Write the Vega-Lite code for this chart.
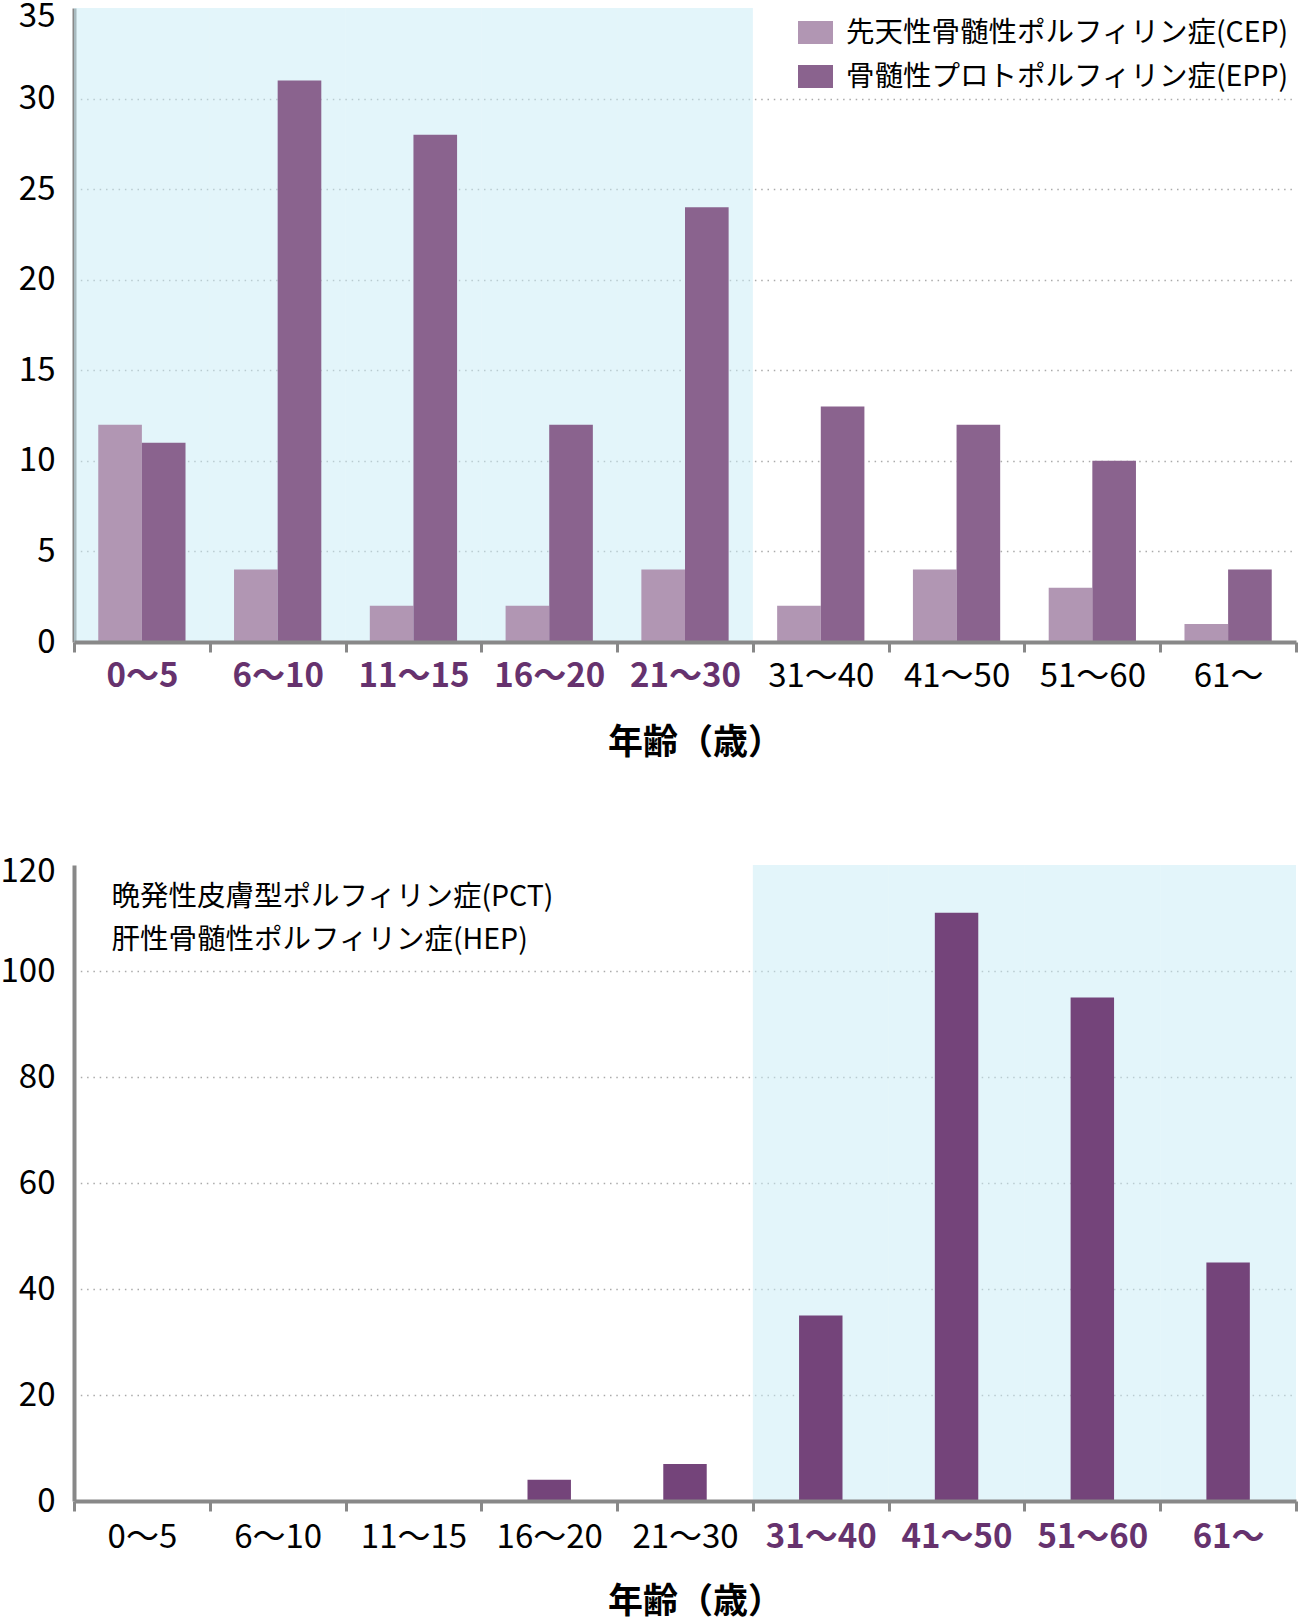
{
  "$schema": "https://vega.github.io/schema/vega-lite/v6.json",
  "padding": {"left": 0, "top": 0, "right": 2, "bottom": 0},
  "background": "white",
  "config": {
    "font": "Noto Sans CJK JP",
    "view": {"stroke": null},
    "axis": {
      "domainColor": "#888888",
      "domainWidth": 4,
      "tickColor": "#888888",
      "tickWidth": 3,
      "labelColor": "black",
      "titleColor": "black",
      "labelFont": "Noto Sans CJK JP",
      "titleFont": "Noto Sans CJK JP"
    },
    "legend": {"labelFont": "Noto Sans CJK JP", "labelFontSize": 28.5, "labelColor": "black", "labelLimit": 0}
  },
  "datasets": {
    "top": [
      {"年齢": "0〜5", "病型": "先天性骨髄性ポルフィリン症(CEP)", "人数": 12},
      {"年齢": "0〜5", "病型": "骨髄性プロトポルフィリン症(EPP)", "人数": 11},
      {"年齢": "6〜10", "病型": "先天性骨髄性ポルフィリン症(CEP)", "人数": 4},
      {"年齢": "6〜10", "病型": "骨髄性プロトポルフィリン症(EPP)", "人数": 31},
      {"年齢": "11〜15", "病型": "先天性骨髄性ポルフィリン症(CEP)", "人数": 2},
      {"年齢": "11〜15", "病型": "骨髄性プロトポルフィリン症(EPP)", "人数": 28},
      {"年齢": "16〜20", "病型": "先天性骨髄性ポルフィリン症(CEP)", "人数": 2},
      {"年齢": "16〜20", "病型": "骨髄性プロトポルフィリン症(EPP)", "人数": 12},
      {"年齢": "21〜30", "病型": "先天性骨髄性ポルフィリン症(CEP)", "人数": 4},
      {"年齢": "21〜30", "病型": "骨髄性プロトポルフィリン症(EPP)", "人数": 24},
      {"年齢": "31〜40", "病型": "先天性骨髄性ポルフィリン症(CEP)", "人数": 2},
      {"年齢": "31〜40", "病型": "骨髄性プロトポルフィリン症(EPP)", "人数": 13},
      {"年齢": "41〜50", "病型": "先天性骨髄性ポルフィリン症(CEP)", "人数": 4},
      {"年齢": "41〜50", "病型": "骨髄性プロトポルフィリン症(EPP)", "人数": 12},
      {"年齢": "51〜60", "病型": "先天性骨髄性ポルフィリン症(CEP)", "人数": 3},
      {"年齢": "51〜60", "病型": "骨髄性プロトポルフィリン症(EPP)", "人数": 10},
      {"年齢": "61〜", "病型": "先天性骨髄性ポルフィリン症(CEP)", "人数": 1},
      {"年齢": "61〜", "病型": "骨髄性プロトポルフィリン症(EPP)", "人数": 4}
    ],
    "topHighlight": [
      {"年齢": "0〜5"}, {"年齢": "6〜10"}, {"年齢": "11〜15"}, {"年齢": "16〜20"}, {"年齢": "21〜30"}
    ],
    "bottom": [
      {"年齢": "0〜5", "人数": 0},
      {"年齢": "6〜10", "人数": 0},
      {"年齢": "11〜15", "人数": 0},
      {"年齢": "16〜20", "人数": 4},
      {"年齢": "21〜30", "人数": 7},
      {"年齢": "31〜40", "人数": 35},
      {"年齢": "41〜50", "人数": 111},
      {"年齢": "51〜60", "人数": 95},
      {"年齢": "61〜", "人数": 45}
    ],
    "bottomHighlight": [
      {"年齢": "31〜40"}, {"年齢": "41〜50"}, {"年齢": "51〜60"}, {"年齢": "61〜"}
    ]
  },
  "vconcat": [
    {
      "width": 1222,
      "height": 634,
      "layer": [
        {
          "data": {"name": "topHighlight"},
          "mark": {"type": "rect", "color": "#c7ebf5", "opacity": 0.5},
          "encoding": {
            "x": {"field": "年齢", "type": "nominal"}
          }
        },
        {
          "data": {"name": "top"},
          "mark": {"type": "bar"},
          "encoding": {
            "x": {"field": "年齢", "type": "nominal"},
            "xOffset": {
              "field": "病型",
              "type": "nominal",
              "scale": {"paddingInner": 0, "paddingOuter": 0.556}
            },
            "y": {"field": "人数", "type": "quantitative"},
            "color": {
              "field": "病型",
              "type": "nominal",
              "scale": {
                "domain": ["先天性骨髄性ポルフィリン症(CEP)", "骨髄性プロトポルフィリン症(EPP)"],
                "range": ["#b196b3", "#8a638e"]
              },
              "legend": {
                "title": null,
                "orient": "top-right",
                "offset": 5,
                "padding": 2,
                "symbolType": "M-1,-0.66H1V0.66H-1Z",
                "symbolSize": 1225,
                "symbolStrokeWidth": 0,
                "labelOffset": 13,
                "rowPadding": 12
              }
            }
          }
        }
      ],
      "encoding": {
        "x": {
          "field": "年齢",
          "type": "nominal",
          "sort": ["0〜5", "6〜10", "11〜15", "16〜20", "21〜30", "31〜40", "41〜50", "51〜60", "61〜"],
          "scale": {
            "domain": ["0〜5", "6〜10", "11〜15", "16〜20", "21〜30", "31〜40", "41〜50", "51〜60", "61〜"],
            "paddingInner": 0,
            "paddingOuter": 0
          },
          "axis": {
            "title": "年齢（歳）",
            "titleFontSize": 35,
            "titleFontWeight": "bold",
            "titlePadding": 32,
            "titleX": 621,
            "titleAlign": "center",
            "labelAngle": 0,
            "labelFontSize": 33,
            "labelPadding": 8,
            "tickBand": "extent",
            "tickSize": 10,
            "labelColor": {"expr": "indexof(['0〜5','6〜10','11〜15','16〜20','21〜30'], datum.value) >= 0 ? '#66326e' : 'black'"},
            "labelFontWeight": {"expr": "indexof(['0〜5','6〜10','11〜15','16〜20','21〜30'], datum.value) >= 0 ? 'bold' : 'normal'"}
          }
        },
        "y": {
          "type": "quantitative",
          "scale": {"domain": [0, 35], "nice": false},
          "axis": {
            "title": null,
            "values": [0, 5, 10, 15, 20, 25, 30, 35],
            "ticks": false,
            "labelFontSize": 33,
            "labelPadding": 19,
            "labelOffset": {"condition": {"test": "datum.value >= 35", "value": 8}, "value": 0},
            "grid": true,
            "gridColor": "#aaaaaa",
            "gridWidth": 1.5,
            "gridDash": [1.5, 4.8],
            "gridOpacity": {"condition": {"test": "datum.value >= 35 || datum.value == 0", "value": 0}, "value": 1}
          }
        }
      }
    },
    {
      "width": 1222,
      "height": 636,
      "layer": [
        {
          "data": {"name": "bottomHighlight"},
          "mark": {"type": "rect", "color": "#c7ebf5", "opacity": 0.5},
          "encoding": {
            "x": {"field": "年齢", "type": "nominal"}
          }
        },
        {
          "data": {"name": "bottom"},
          "mark": {"type": "bar", "width": {"band": 0.32}},
          "encoding": {
            "x": {"field": "年齢", "type": "nominal"},
            "y": {"field": "人数", "type": "quantitative"},
            "color": {
              "datum": "晩発性皮膚型ポルフィリン症(PCT)",
              "type": "nominal",
              "scale": {
                "domain": ["晩発性皮膚型ポルフィリン症(PCT)", "肝性骨髄性ポルフィリン症(HEP)"],
                "range": ["#74447a", "#74447a"]
              },
              "legend": {
                "title": null,
                "orient": "top-left",
                "offset": 14,
                "padding": 4,
                "symbolSize": 1,
                "symbolOpacity": 0,
                "labelOffset": -9,
                "rowPadding": 14
              }
            }
          }
        }
      ],
      "encoding": {
        "x": {
          "field": "年齢",
          "type": "nominal",
          "sort": ["0〜5", "6〜10", "11〜15", "16〜20", "21〜30", "31〜40", "41〜50", "51〜60", "61〜"],
          "scale": {
            "domain": ["0〜5", "6〜10", "11〜15", "16〜20", "21〜30", "31〜40", "41〜50", "51〜60", "61〜"],
            "paddingInner": 0,
            "paddingOuter": 0
          },
          "axis": {
            "title": "年齢（歳）",
            "titleFontSize": 35,
            "titleFontWeight": "bold",
            "titlePadding": 30,
            "titleX": 621,
            "titleAlign": "center",
            "labelAngle": 0,
            "labelFontSize": 33,
            "labelPadding": 10,
            "tickBand": "extent",
            "tickSize": 10,
            "labelColor": {"expr": "indexof(['31〜40','41〜50','51〜60','61〜'], datum.value) >= 0 ? '#66326e' : 'black'"},
            "labelFontWeight": {"expr": "indexof(['31〜40','41〜50','51〜60','61〜'], datum.value) >= 0 ? 'bold' : 'normal'"}
          }
        },
        "y": {
          "type": "quantitative",
          "scale": {"domain": [0, 120], "nice": false},
          "axis": {
            "title": null,
            "values": [0, 20, 40, 60, 80, 100, 120],
            "ticks": false,
            "labelFontSize": 33,
            "labelPadding": 19,
            "labelOffset": {"condition": {"test": "datum.value >= 120", "value": 6}, "value": 0},
            "grid": true,
            "gridColor": "#aaaaaa",
            "gridWidth": 1.5,
            "gridDash": [1.5, 4.8],
            "gridOpacity": {"condition": {"test": "datum.value >= 120 || datum.value == 0", "value": 0}, "value": 1}
          }
        }
      }
    }
  ],
  "spacing": 223,
  "bounds": "flush",
  "resolve": {
    "scale": {"color": "independent", "x": "independent", "y": "independent"},
    "legend": {"color": "independent"}
  }
}
